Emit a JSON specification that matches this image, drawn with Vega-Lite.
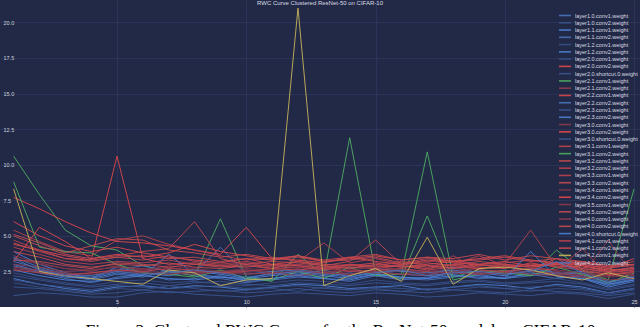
{
"$schema": "https://vega.github.io/schema/vega-lite/v6.json",
"width": 640, "height": 307, "padding": 0,
"background": "#ffffff",
"config": {"view": {"fill": "#212946", "stroke": null}, "font": "Liberation Sans"},
"title": {"text": "RWC Curve Clustered ResNet-50 on CIFAR-10", "fontSize": 6, "color": "#dcdce4", "fontWeight": "normal", "offset": -6, "anchor": "middle"},
"datasets": {
"names": [
{"k":1,"s":"layer1.0.conv1.weight"},{"k":2,"s":"layer1.0.conv2.weight"},{"k":3,"s":"layer1.1.conv1.weight"},{"k":4,"s":"layer1.1.conv2.weight"},{"k":5,"s":"layer1.2.conv1.weight"},{"k":6,"s":"layer1.2.conv2.weight"},{"k":7,"s":"layer2.0.conv1.weight"},{"k":8,"s":"layer2.0.conv2.weight"},{"k":9,"s":"layer2.0.shortcut.0.weight"},{"k":10,"s":"layer2.1.conv1.weight"},{"k":11,"s":"layer2.1.conv2.weight"},{"k":12,"s":"layer2.2.conv1.weight"},{"k":13,"s":"layer2.2.conv2.weight"},{"k":14,"s":"layer2.3.conv1.weight"},{"k":15,"s":"layer2.3.conv2.weight"},{"k":16,"s":"layer3.0.conv1.weight"},{"k":17,"s":"layer3.0.conv2.weight"},{"k":18,"s":"layer3.0.shortcut.0.weight"},{"k":19,"s":"layer3.1.conv1.weight"},{"k":20,"s":"layer3.1.conv2.weight"},{"k":21,"s":"layer3.2.conv1.weight"},{"k":22,"s":"layer3.2.conv2.weight"},{"k":23,"s":"layer3.3.conv1.weight"},{"k":24,"s":"layer3.3.conv2.weight"},{"k":25,"s":"layer3.4.conv1.weight"},{"k":26,"s":"layer3.4.conv2.weight"},{"k":27,"s":"layer3.5.conv1.weight"},{"k":28,"s":"layer3.5.conv2.weight"},{"k":29,"s":"layer4.0.conv1.weight"},{"k":30,"s":"layer4.0.conv2.weight"},{"k":31,"s":"layer4.0.shortcut.0.weight"},{"k":32,"s":"layer4.1.conv1.weight"},{"k":33,"s":"layer4.1.conv2.weight"},{"k":34,"s":"layer4.2.conv1.weight"},{"k":35,"s":"layer4.2.conv2.weight"}
],
"pts": [
{"k":1,"x":1,"y":2.9},{"k":1,"x":2,"y":2.4},{"k":1,"x":3,"y":2.0},{"k":1,"x":4,"y":1.7},{"k":1,"x":5,"y":2.1},{"k":1,"x":6,"y":2.3},{"k":1,"x":7,"y":1.9},{"k":1,"x":8,"y":2.0},{"k":1,"x":9,"y":2.2},{"k":1,"x":10,"y":1.8},{"k":1,"x":11,"y":1.9},{"k":1,"x":12,"y":2.1},{"k":1,"x":13,"y":2.0},{"k":1,"x":14,"y":1.8},{"k":1,"x":15,"y":2.2},{"k":1,"x":16,"y":2.0},{"k":1,"x":17,"y":1.9},{"k":1,"x":18,"y":2.1},{"k":1,"x":19,"y":2.3},{"k":1,"x":20,"y":2.0},{"k":1,"x":21,"y":2.2},{"k":1,"x":22,"y":2.4},{"k":1,"x":23,"y":2.1},{"k":1,"x":24,"y":1.5},{"k":1,"x":25,"y":1.9},
{"k":2,"x":1,"y":0.8},{"k":2,"x":2,"y":1.0},{"k":2,"x":3,"y":0.9},{"k":2,"x":4,"y":0.7},{"k":2,"x":5,"y":0.7},{"k":2,"x":6,"y":1.0},{"k":2,"x":7,"y":1.1},{"k":2,"x":8,"y":0.9},{"k":2,"x":9,"y":0.8},{"k":2,"x":10,"y":0.7},{"k":2,"x":11,"y":0.9},{"k":2,"x":12,"y":1.0},{"k":2,"x":13,"y":0.9},{"k":2,"x":14,"y":0.8},{"k":2,"x":15,"y":1.0},{"k":2,"x":16,"y":0.9},{"k":2,"x":17,"y":0.7},{"k":2,"x":18,"y":0.8},{"k":2,"x":19,"y":1.0},{"k":2,"x":20,"y":0.9},{"k":2,"x":21,"y":0.8},{"k":2,"x":22,"y":1.0},{"k":2,"x":23,"y":0.9},{"k":2,"x":24,"y":0.6},{"k":2,"x":25,"y":0.9},
{"k":3,"x":1,"y":2.0},{"k":3,"x":2,"y":1.6},{"k":3,"x":3,"y":1.3},{"k":3,"x":4,"y":1.1},{"k":3,"x":5,"y":1.4},{"k":3,"x":6,"y":1.5},{"k":3,"x":7,"y":1.3},{"k":3,"x":8,"y":1.5},{"k":3,"x":9,"y":1.4},{"k":3,"x":10,"y":1.2},{"k":3,"x":11,"y":1.4},{"k":3,"x":12,"y":1.6},{"k":3,"x":13,"y":1.5},{"k":3,"x":14,"y":1.3},{"k":3,"x":15,"y":1.4},{"k":3,"x":16,"y":1.5},{"k":3,"x":17,"y":1.2},{"k":3,"x":18,"y":1.4},{"k":3,"x":19,"y":1.6},{"k":3,"x":20,"y":1.5},{"k":3,"x":21,"y":1.3},{"k":3,"x":22,"y":1.6},{"k":3,"x":23,"y":1.4},{"k":3,"x":24,"y":1.0},{"k":3,"x":25,"y":1.3},
{"k":4,"x":1,"y":3.2},{"k":4,"x":2,"y":2.7},{"k":4,"x":3,"y":2.2},{"k":4,"x":4,"y":1.9},{"k":4,"x":5,"y":2.3},{"k":4,"x":6,"y":2.1},{"k":4,"x":7,"y":2.6},{"k":4,"x":8,"y":2.2},{"k":4,"x":9,"y":2.0},{"k":4,"x":10,"y":1.7},{"k":4,"x":11,"y":2.0},{"k":4,"x":12,"y":2.3},{"k":4,"x":13,"y":2.1},{"k":4,"x":14,"y":2.4},{"k":4,"x":15,"y":2.2},{"k":4,"x":16,"y":1.9},{"k":4,"x":17,"y":2.1},{"k":4,"x":18,"y":2.3},{"k":4,"x":19,"y":2.0},{"k":4,"x":20,"y":2.1},{"k":4,"x":21,"y":2.3},{"k":4,"x":22,"y":2.0},{"k":4,"x":23,"y":2.2},{"k":4,"x":24,"y":1.6},{"k":4,"x":25,"y":2.0},
{"k":5,"x":1,"y":1.7},{"k":5,"x":2,"y":1.4},{"k":5,"x":3,"y":1.2},{"k":5,"x":4,"y":1.0},{"k":5,"x":5,"y":1.3},{"k":5,"x":6,"y":1.2},{"k":5,"x":7,"y":1.5},{"k":5,"x":8,"y":1.3},{"k":5,"x":9,"y":1.1},{"k":5,"x":10,"y":1.2},{"k":5,"x":11,"y":1.3},{"k":5,"x":12,"y":1.1},{"k":5,"x":13,"y":1.4},{"k":5,"x":14,"y":1.2},{"k":5,"x":15,"y":1.3},{"k":5,"x":16,"y":1.1},{"k":5,"x":17,"y":1.3},{"k":5,"x":18,"y":1.2},{"k":5,"x":19,"y":1.4},{"k":5,"x":20,"y":1.3},{"k":5,"x":21,"y":1.1},{"k":5,"x":22,"y":1.3},{"k":5,"x":23,"y":1.2},{"k":5,"x":24,"y":0.9},{"k":5,"x":25,"y":1.2},
{"k":6,"x":1,"y":3.9},{"k":6,"x":2,"y":3.0},{"k":6,"x":3,"y":2.4},{"k":6,"x":4,"y":2.0},{"k":6,"x":5,"y":2.8},{"k":6,"x":6,"y":2.4},{"k":6,"x":7,"y":2.2},{"k":6,"x":8,"y":2.5},{"k":6,"x":9,"y":2.3},{"k":6,"x":10,"y":2.0},{"k":6,"x":11,"y":2.4},{"k":6,"x":12,"y":2.2},{"k":6,"x":13,"y":2.6},{"k":6,"x":14,"y":2.1},{"k":6,"x":15,"y":2.5},{"k":6,"x":16,"y":2.3},{"k":6,"x":17,"y":2.2},{"k":6,"x":18,"y":2.8},{"k":6,"x":19,"y":2.4},{"k":6,"x":20,"y":2.2},{"k":6,"x":21,"y":2.6},{"k":6,"x":22,"y":2.3},{"k":6,"x":23,"y":2.5},{"k":6,"x":24,"y":1.8},{"k":6,"x":25,"y":2.1},
{"k":7,"x":1,"y":2.4},{"k":7,"x":2,"y":2.0},{"k":7,"x":3,"y":1.7},{"k":7,"x":4,"y":1.5},{"k":7,"x":5,"y":1.8},{"k":7,"x":6,"y":1.9},{"k":7,"x":7,"y":1.7},{"k":7,"x":8,"y":1.8},{"k":7,"x":9,"y":1.6},{"k":7,"x":10,"y":1.5},{"k":7,"x":11,"y":1.7},{"k":7,"x":12,"y":1.9},{"k":7,"x":13,"y":1.8},{"k":7,"x":14,"y":1.6},{"k":7,"x":15,"y":1.9},{"k":7,"x":16,"y":1.7},{"k":7,"x":17,"y":1.6},{"k":7,"x":18,"y":1.8},{"k":7,"x":19,"y":1.9},{"k":7,"x":20,"y":1.7},{"k":7,"x":21,"y":1.8},{"k":7,"x":22,"y":2.0},{"k":7,"x":23,"y":1.7},{"k":7,"x":24,"y":1.3},{"k":7,"x":25,"y":1.6},
{"k":8,"x":1,"y":4.4},{"k":8,"x":2,"y":4.0},{"k":8,"x":3,"y":3.6},{"k":8,"x":4,"y":3.3},{"k":8,"x":5,"y":10.6},{"k":8,"x":6,"y":3.4},{"k":8,"x":7,"y":3.0},{"k":8,"x":8,"y":3.1},{"k":8,"x":9,"y":2.9},{"k":8,"x":10,"y":2.8},{"k":8,"x":11,"y":3.0},{"k":8,"x":12,"y":2.9},{"k":8,"x":13,"y":2.7},{"k":8,"x":14,"y":3.0},{"k":8,"x":15,"y":2.8},{"k":8,"x":16,"y":2.9},{"k":8,"x":17,"y":2.7},{"k":8,"x":18,"y":3.0},{"k":8,"x":19,"y":2.8},{"k":8,"x":20,"y":2.7},{"k":8,"x":21,"y":3.1},{"k":8,"x":22,"y":2.8},{"k":8,"x":23,"y":2.9},{"k":8,"x":24,"y":2.5},{"k":8,"x":25,"y":2.6},
{"k":9,"x":1,"y":1.4},{"k":9,"x":2,"y":1.3},{"k":9,"x":3,"y":1.1},{"k":9,"x":4,"y":0.9},{"k":9,"x":5,"y":1.0},{"k":9,"x":6,"y":1.2},{"k":9,"x":7,"y":1.0},{"k":9,"x":8,"y":1.1},{"k":9,"x":9,"y":1.2},{"k":9,"x":10,"y":1.0},{"k":9,"x":11,"y":1.1},{"k":9,"x":12,"y":1.3},{"k":9,"x":13,"y":1.1},{"k":9,"x":14,"y":1.0},{"k":9,"x":15,"y":1.2},{"k":9,"x":16,"y":1.1},{"k":9,"x":17,"y":1.0},{"k":9,"x":18,"y":1.2},{"k":9,"x":19,"y":1.1},{"k":9,"x":20,"y":1.0},{"k":9,"x":21,"y":1.2},{"k":9,"x":22,"y":1.1},{"k":9,"x":23,"y":1.0},{"k":9,"x":24,"y":0.8},{"k":9,"x":25,"y":1.0},
{"k":10,"x":1,"y":10.6},{"k":10,"x":2,"y":7.9},{"k":10,"x":3,"y":5.4},{"k":10,"x":4,"y":4.3},{"k":10,"x":5,"y":4.0},{"k":10,"x":6,"y":2.9},{"k":10,"x":7,"y":2.5},{"k":10,"x":8,"y":2.2},{"k":10,"x":9,"y":6.2},{"k":10,"x":10,"y":2.1},{"k":10,"x":11,"y":1.8},{"k":10,"x":12,"y":3.7},{"k":10,"x":13,"y":2.2},{"k":10,"x":14,"y":11.9},{"k":10,"x":15,"y":2.4},{"k":10,"x":16,"y":2.0},{"k":10,"x":17,"y":6.4},{"k":10,"x":18,"y":1.9},{"k":10,"x":19,"y":2.3},{"k":10,"x":20,"y":2.6},{"k":10,"x":21,"y":2.2},{"k":10,"x":22,"y":4.0},{"k":10,"x":23,"y":2.6},{"k":10,"x":24,"y":1.9},{"k":10,"x":25,"y":8.3},
{"k":11,"x":1,"y":3.6},{"k":11,"x":2,"y":3.1},{"k":11,"x":3,"y":2.7},{"k":11,"x":4,"y":2.5},{"k":11,"x":5,"y":2.9},{"k":11,"x":6,"y":2.6},{"k":11,"x":7,"y":2.8},{"k":11,"x":8,"y":2.5},{"k":11,"x":9,"y":2.4},{"k":11,"x":10,"y":2.6},{"k":11,"x":11,"y":2.5},{"k":11,"x":12,"y":2.7},{"k":11,"x":13,"y":2.4},{"k":11,"x":14,"y":2.3},{"k":11,"x":15,"y":2.6},{"k":11,"x":16,"y":2.5},{"k":11,"x":17,"y":2.4},{"k":11,"x":18,"y":2.6},{"k":11,"x":19,"y":2.5},{"k":11,"x":20,"y":2.4},{"k":11,"x":21,"y":2.7},{"k":11,"x":22,"y":2.5},{"k":11,"x":23,"y":2.3},{"k":11,"x":24,"y":2.2},{"k":11,"x":25,"y":2.3},
{"k":12,"x":1,"y":6.0},{"k":12,"x":2,"y":5.0},{"k":12,"x":3,"y":4.3},{"k":12,"x":4,"y":3.9},{"k":12,"x":5,"y":4.2},{"k":12,"x":6,"y":3.8},{"k":12,"x":7,"y":3.5},{"k":12,"x":8,"y":3.3},{"k":12,"x":9,"y":3.1},{"k":12,"x":10,"y":3.4},{"k":12,"x":11,"y":3.0},{"k":12,"x":12,"y":3.2},{"k":12,"x":13,"y":3.0},{"k":12,"x":14,"y":2.9},{"k":12,"x":15,"y":3.1},{"k":12,"x":16,"y":2.8},{"k":12,"x":17,"y":3.0},{"k":12,"x":18,"y":3.2},{"k":12,"x":19,"y":2.9},{"k":12,"x":20,"y":3.0},{"k":12,"x":21,"y":2.8},{"k":12,"x":22,"y":3.1},{"k":12,"x":23,"y":2.9},{"k":12,"x":24,"y":2.6},{"k":12,"x":25,"y":2.7},
{"k":13,"x":1,"y":3.5},{"k":13,"x":2,"y":2.8},{"k":13,"x":3,"y":2.3},{"k":13,"x":4,"y":2.2},{"k":13,"x":5,"y":2.6},{"k":13,"x":6,"y":2.9},{"k":13,"x":7,"y":2.5},{"k":13,"x":8,"y":2.4},{"k":13,"x":9,"y":4.2},{"k":13,"x":10,"y":2.3},{"k":13,"x":11,"y":2.5},{"k":13,"x":12,"y":2.6},{"k":13,"x":13,"y":2.4},{"k":13,"x":14,"y":2.2},{"k":13,"x":15,"y":2.7},{"k":13,"x":16,"y":2.5},{"k":13,"x":17,"y":2.4},{"k":13,"x":18,"y":2.6},{"k":13,"x":19,"y":2.3},{"k":13,"x":20,"y":2.5},{"k":13,"x":21,"y":2.7},{"k":13,"x":22,"y":2.4},{"k":13,"x":23,"y":2.3},{"k":13,"x":24,"y":1.7},{"k":13,"x":25,"y":2.2},
{"k":14,"x":1,"y":2.2},{"k":14,"x":2,"y":1.9},{"k":14,"x":3,"y":1.6},{"k":14,"x":4,"y":1.4},{"k":14,"x":5,"y":1.6},{"k":14,"x":6,"y":1.7},{"k":14,"x":7,"y":1.5},{"k":14,"x":8,"y":1.7},{"k":14,"x":9,"y":1.8},{"k":14,"x":10,"y":1.6},{"k":14,"x":11,"y":1.5},{"k":14,"x":12,"y":1.7},{"k":14,"x":13,"y":1.6},{"k":14,"x":14,"y":1.5},{"k":14,"x":15,"y":1.7},{"k":14,"x":16,"y":1.6},{"k":14,"x":17,"y":1.5},{"k":14,"x":18,"y":1.7},{"k":14,"x":19,"y":1.8},{"k":14,"x":20,"y":1.6},{"k":14,"x":21,"y":1.7},{"k":14,"x":22,"y":1.8},{"k":14,"x":23,"y":1.6},{"k":14,"x":24,"y":1.2},{"k":14,"x":25,"y":1.5},
{"k":15,"x":1,"y":3.0},{"k":15,"x":2,"y":2.5},{"k":15,"x":3,"y":2.1},{"k":15,"x":4,"y":2.0},{"k":15,"x":5,"y":2.4},{"k":15,"x":6,"y":2.2},{"k":15,"x":7,"y":3.7},{"k":15,"x":8,"y":2.3},{"k":15,"x":9,"y":2.1},{"k":15,"x":10,"y":2.0},{"k":15,"x":11,"y":2.2},{"k":15,"x":12,"y":2.4},{"k":15,"x":13,"y":2.2},{"k":15,"x":14,"y":2.0},{"k":15,"x":15,"y":2.3},{"k":15,"x":16,"y":2.1},{"k":15,"x":17,"y":2.0},{"k":15,"x":18,"y":2.5},{"k":15,"x":19,"y":2.2},{"k":15,"x":20,"y":2.0},{"k":15,"x":21,"y":2.4},{"k":15,"x":22,"y":2.2},{"k":15,"x":23,"y":2.0},{"k":15,"x":24,"y":1.6},{"k":15,"x":25,"y":1.9},
{"k":16,"x":1,"y":3.0},{"k":16,"x":2,"y":2.8},{"k":16,"x":3,"y":2.5},{"k":16,"x":4,"y":2.6},{"k":16,"x":5,"y":2.8},{"k":16,"x":6,"y":2.7},{"k":16,"x":7,"y":2.6},{"k":16,"x":8,"y":2.4},{"k":16,"x":9,"y":2.5},{"k":16,"x":10,"y":2.6},{"k":16,"x":11,"y":2.4},{"k":16,"x":12,"y":2.5},{"k":16,"x":13,"y":2.3},{"k":16,"x":14,"y":2.5},{"k":16,"x":15,"y":2.4},{"k":16,"x":16,"y":2.6},{"k":16,"x":17,"y":2.3},{"k":16,"x":18,"y":2.5},{"k":16,"x":19,"y":2.4},{"k":16,"x":20,"y":2.3},{"k":16,"x":21,"y":2.5},{"k":16,"x":22,"y":2.4},{"k":16,"x":23,"y":2.2},{"k":16,"x":24,"y":2.1},{"k":16,"x":25,"y":2.2},
{"k":17,"x":1,"y":7.7},{"k":17,"x":2,"y":6.9},{"k":17,"x":3,"y":6.0},{"k":17,"x":4,"y":5.2},{"k":17,"x":5,"y":4.6},{"k":17,"x":6,"y":4.5},{"k":17,"x":7,"y":4.3},{"k":17,"x":8,"y":4.0},{"k":17,"x":9,"y":3.7},{"k":17,"x":10,"y":5.6},{"k":17,"x":11,"y":3.4},{"k":17,"x":12,"y":3.3},{"k":17,"x":13,"y":3.1},{"k":17,"x":14,"y":3.5},{"k":17,"x":15,"y":3.2},{"k":17,"x":16,"y":3.0},{"k":17,"x":17,"y":3.3},{"k":17,"x":18,"y":3.1},{"k":17,"x":19,"y":3.0},{"k":17,"x":20,"y":3.2},{"k":17,"x":21,"y":2.9},{"k":17,"x":22,"y":3.1},{"k":17,"x":23,"y":3.0},{"k":17,"x":24,"y":2.7},{"k":17,"x":25,"y":3.4},
{"k":18,"x":1,"y":1.9},{"k":18,"x":2,"y":1.6},{"k":18,"x":3,"y":1.4},{"k":18,"x":4,"y":1.2},{"k":18,"x":5,"y":1.5},{"k":18,"x":6,"y":1.4},{"k":18,"x":7,"y":1.3},{"k":18,"x":8,"y":1.4},{"k":18,"x":9,"y":1.5},{"k":18,"x":10,"y":1.3},{"k":18,"x":11,"y":1.4},{"k":18,"x":12,"y":1.5},{"k":18,"x":13,"y":1.3},{"k":18,"x":14,"y":1.2},{"k":18,"x":15,"y":1.4},{"k":18,"x":16,"y":1.3},{"k":18,"x":17,"y":1.2},{"k":18,"x":18,"y":1.4},{"k":18,"x":19,"y":1.5},{"k":18,"x":20,"y":1.3},{"k":18,"x":21,"y":1.4},{"k":18,"x":22,"y":1.5},{"k":18,"x":23,"y":1.3},{"k":18,"x":24,"y":1.0},{"k":18,"x":25,"y":1.3},
{"k":19,"x":1,"y":5.4},{"k":19,"x":2,"y":4.6},{"k":19,"x":3,"y":3.9},{"k":19,"x":4,"y":3.6},{"k":19,"x":5,"y":4.7},{"k":19,"x":6,"y":5.0},{"k":19,"x":7,"y":4.4},{"k":19,"x":8,"y":4.0},{"k":19,"x":9,"y":3.6},{"k":19,"x":10,"y":3.3},{"k":19,"x":11,"y":3.5},{"k":19,"x":12,"y":3.2},{"k":19,"x":13,"y":4.5},{"k":19,"x":14,"y":3.1},{"k":19,"x":15,"y":3.4},{"k":19,"x":16,"y":3.0},{"k":19,"x":17,"y":3.2},{"k":19,"x":18,"y":3.3},{"k":19,"x":19,"y":3.0},{"k":19,"x":20,"y":3.1},{"k":19,"x":21,"y":3.3},{"k":19,"x":22,"y":3.0},{"k":19,"x":23,"y":3.1},{"k":19,"x":24,"y":2.8},{"k":19,"x":25,"y":2.9},
{"k":20,"x":1,"y":8.8},{"k":20,"x":2,"y":4.2},{"k":20,"x":3,"y":3.9},{"k":20,"x":4,"y":3.8},{"k":20,"x":5,"y":3.0},{"k":20,"x":6,"y":2.4},{"k":20,"x":7,"y":2.3},{"k":20,"x":8,"y":2.1},{"k":20,"x":9,"y":2.6},{"k":20,"x":10,"y":2.0},{"k":20,"x":11,"y":1.9},{"k":20,"x":12,"y":2.5},{"k":20,"x":13,"y":2.0},{"k":20,"x":14,"y":2.8},{"k":20,"x":15,"y":2.2},{"k":20,"x":16,"y":2.3},{"k":20,"x":17,"y":10.9},{"k":20,"x":18,"y":2.1},{"k":20,"x":19,"y":2.6},{"k":20,"x":20,"y":2.4},{"k":20,"x":21,"y":2.2},{"k":20,"x":22,"y":2.8},{"k":20,"x":23,"y":2.3},{"k":20,"x":24,"y":1.7},{"k":20,"x":25,"y":2.4},
{"k":21,"x":1,"y":5.0},{"k":21,"x":2,"y":4.3},{"k":21,"x":3,"y":3.7},{"k":21,"x":4,"y":3.4},{"k":21,"x":5,"y":3.6},{"k":21,"x":6,"y":3.9},{"k":21,"x":7,"y":4.1},{"k":21,"x":8,"y":6.0},{"k":21,"x":9,"y":3.4},{"k":21,"x":10,"y":3.0},{"k":21,"x":11,"y":3.2},{"k":21,"x":12,"y":3.1},{"k":21,"x":13,"y":2.9},{"k":21,"x":14,"y":3.2},{"k":21,"x":15,"y":4.7},{"k":21,"x":16,"y":3.0},{"k":21,"x":17,"y":3.1},{"k":21,"x":18,"y":2.9},{"k":21,"x":19,"y":3.2},{"k":21,"x":20,"y":3.0},{"k":21,"x":21,"y":2.8},{"k":21,"x":22,"y":3.0},{"k":21,"x":23,"y":2.8},{"k":21,"x":24,"y":2.6},{"k":21,"x":25,"y":2.7},
{"k":22,"x":1,"y":4.7},{"k":22,"x":2,"y":4.0},{"k":22,"x":3,"y":3.4},{"k":22,"x":4,"y":3.2},{"k":22,"x":5,"y":3.5},{"k":22,"x":6,"y":3.3},{"k":22,"x":7,"y":3.6},{"k":22,"x":8,"y":3.2},{"k":22,"x":9,"y":3.0},{"k":22,"x":10,"y":3.2},{"k":22,"x":11,"y":2.9},{"k":22,"x":12,"y":3.0},{"k":22,"x":13,"y":2.8},{"k":22,"x":14,"y":3.0},{"k":22,"x":15,"y":2.9},{"k":22,"x":16,"y":3.2},{"k":22,"x":17,"y":2.9},{"k":22,"x":18,"y":3.0},{"k":22,"x":19,"y":3.6},{"k":22,"x":20,"y":2.9},{"k":22,"x":21,"y":3.0},{"k":22,"x":22,"y":2.9},{"k":22,"x":23,"y":2.7},{"k":22,"x":24,"y":2.4},{"k":22,"x":25,"y":2.6},
{"k":23,"x":1,"y":4.2},{"k":23,"x":2,"y":3.7},{"k":23,"x":3,"y":3.2},{"k":23,"x":4,"y":3.0},{"k":23,"x":5,"y":3.2},{"k":23,"x":6,"y":3.1},{"k":23,"x":7,"y":3.3},{"k":23,"x":8,"y":3.0},{"k":23,"x":9,"y":2.9},{"k":23,"x":10,"y":3.1},{"k":23,"x":11,"y":2.8},{"k":23,"x":12,"y":2.9},{"k":23,"x":13,"y":2.7},{"k":23,"x":14,"y":2.9},{"k":23,"x":15,"y":2.8},{"k":23,"x":16,"y":3.0},{"k":23,"x":17,"y":2.8},{"k":23,"x":18,"y":2.9},{"k":23,"x":19,"y":2.7},{"k":23,"x":20,"y":3.0},{"k":23,"x":21,"y":5.4},{"k":23,"x":22,"y":2.8},{"k":23,"x":23,"y":2.6},{"k":23,"x":24,"y":2.3},{"k":23,"x":25,"y":2.5},
{"k":24,"x":1,"y":3.9},{"k":24,"x":2,"y":3.5},{"k":24,"x":3,"y":3.0},{"k":24,"x":4,"y":2.8},{"k":24,"x":5,"y":3.0},{"k":24,"x":6,"y":2.9},{"k":24,"x":7,"y":3.1},{"k":24,"x":8,"y":2.8},{"k":24,"x":9,"y":2.7},{"k":24,"x":10,"y":2.9},{"k":24,"x":11,"y":2.7},{"k":24,"x":12,"y":2.8},{"k":24,"x":13,"y":2.6},{"k":24,"x":14,"y":2.8},{"k":24,"x":15,"y":2.7},{"k":24,"x":16,"y":2.9},{"k":24,"x":17,"y":2.6},{"k":24,"x":18,"y":2.8},{"k":24,"x":19,"y":2.7},{"k":24,"x":20,"y":2.9},{"k":24,"x":21,"y":2.6},{"k":24,"x":22,"y":3.4},{"k":24,"x":23,"y":2.5},{"k":24,"x":24,"y":2.3},{"k":24,"x":25,"y":2.4},
{"k":25,"x":1,"y":3.4},{"k":25,"x":2,"y":3.0},{"k":25,"x":3,"y":2.7},{"k":25,"x":4,"y":2.6},{"k":25,"x":5,"y":2.8},{"k":25,"x":6,"y":2.6},{"k":25,"x":7,"y":2.9},{"k":25,"x":8,"y":2.7},{"k":25,"x":9,"y":2.5},{"k":25,"x":10,"y":2.7},{"k":25,"x":11,"y":2.6},{"k":25,"x":12,"y":2.8},{"k":25,"x":13,"y":2.5},{"k":25,"x":14,"y":2.6},{"k":25,"x":15,"y":2.8},{"k":25,"x":16,"y":2.6},{"k":25,"x":17,"y":2.5},{"k":25,"x":18,"y":2.7},{"k":25,"x":19,"y":2.6},{"k":25,"x":20,"y":2.5},{"k":25,"x":21,"y":2.8},{"k":25,"x":22,"y":2.6},{"k":25,"x":23,"y":2.4},{"k":25,"x":24,"y":2.2},{"k":25,"x":25,"y":2.3},
{"k":26,"x":1,"y":3.2},{"k":26,"x":2,"y":5.6},{"k":26,"x":3,"y":4.6},{"k":26,"x":4,"y":3.4},{"k":26,"x":5,"y":3.7},{"k":26,"x":6,"y":3.5},{"k":26,"x":7,"y":3.8},{"k":26,"x":8,"y":4.4},{"k":26,"x":9,"y":3.9},{"k":26,"x":10,"y":3.6},{"k":26,"x":11,"y":3.3},{"k":26,"x":12,"y":3.6},{"k":26,"x":13,"y":3.2},{"k":26,"x":14,"y":3.4},{"k":26,"x":15,"y":3.6},{"k":26,"x":16,"y":3.3},{"k":26,"x":17,"y":3.5},{"k":26,"x":18,"y":3.2},{"k":26,"x":19,"y":3.4},{"k":26,"x":20,"y":3.6},{"k":26,"x":21,"y":3.3},{"k":26,"x":22,"y":3.1},{"k":26,"x":23,"y":3.2},{"k":26,"x":24,"y":2.9},{"k":26,"x":25,"y":3.0},
{"k":27,"x":1,"y":2.8},{"k":27,"x":2,"y":2.6},{"k":27,"x":3,"y":2.4},{"k":27,"x":4,"y":2.3},{"k":27,"x":5,"y":2.5},{"k":27,"x":6,"y":2.4},{"k":27,"x":7,"y":2.3},{"k":27,"x":8,"y":2.5},{"k":27,"x":9,"y":2.4},{"k":27,"x":10,"y":2.3},{"k":27,"x":11,"y":2.4},{"k":27,"x":12,"y":2.2},{"k":27,"x":13,"y":2.4},{"k":27,"x":14,"y":2.3},{"k":27,"x":15,"y":2.5},{"k":27,"x":16,"y":2.3},{"k":27,"x":17,"y":2.2},{"k":27,"x":18,"y":2.4},{"k":27,"x":19,"y":2.3},{"k":27,"x":20,"y":2.5},{"k":27,"x":21,"y":2.3},{"k":27,"x":22,"y":2.2},{"k":27,"x":23,"y":2.1},{"k":27,"x":24,"y":1.9},{"k":27,"x":25,"y":2.0},
{"k":28,"x":1,"y":3.3},{"k":28,"x":2,"y":3.2},{"k":28,"x":3,"y":2.9},{"k":28,"x":4,"y":2.7},{"k":28,"x":5,"y":3.1},{"k":28,"x":6,"y":3.0},{"k":28,"x":7,"y":2.8},{"k":28,"x":8,"y":3.0},{"k":28,"x":9,"y":2.8},{"k":28,"x":10,"y":3.0},{"k":28,"x":11,"y":2.7},{"k":28,"x":12,"y":3.2},{"k":28,"x":13,"y":2.9},{"k":28,"x":14,"y":2.7},{"k":28,"x":15,"y":3.0},{"k":28,"x":16,"y":2.8},{"k":28,"x":17,"y":2.9},{"k":28,"x":18,"y":2.7},{"k":28,"x":19,"y":3.0},{"k":28,"x":20,"y":2.8},{"k":28,"x":21,"y":2.9},{"k":28,"x":22,"y":3.0},{"k":28,"x":23,"y":2.7},{"k":28,"x":24,"y":2.5},{"k":28,"x":25,"y":2.8},
{"k":29,"x":1,"y":2.7},{"k":29,"x":2,"y":2.5},{"k":29,"x":3,"y":2.3},{"k":29,"x":4,"y":2.4},{"k":29,"x":5,"y":2.6},{"k":29,"x":6,"y":2.5},{"k":29,"x":7,"y":2.4},{"k":29,"x":8,"y":2.3},{"k":29,"x":9,"y":2.5},{"k":29,"x":10,"y":2.4},{"k":29,"x":11,"y":2.3},{"k":29,"x":12,"y":2.5},{"k":29,"x":13,"y":2.4},{"k":29,"x":14,"y":2.6},{"k":29,"x":15,"y":2.4},{"k":29,"x":16,"y":2.3},{"k":29,"x":17,"y":2.5},{"k":29,"x":18,"y":2.4},{"k":29,"x":19,"y":2.3},{"k":29,"x":20,"y":2.4},{"k":29,"x":21,"y":2.5},{"k":29,"x":22,"y":2.3},{"k":29,"x":23,"y":2.2},{"k":29,"x":24,"y":4.7},{"k":29,"x":25,"y":2.1},
{"k":30,"x":1,"y":4.5},{"k":30,"x":2,"y":3.9},{"k":30,"x":3,"y":3.4},{"k":30,"x":4,"y":3.3},{"k":30,"x":5,"y":3.5},{"k":30,"x":6,"y":3.6},{"k":30,"x":7,"y":3.4},{"k":30,"x":8,"y":3.5},{"k":30,"x":9,"y":3.2},{"k":30,"x":10,"y":3.4},{"k":30,"x":11,"y":3.3},{"k":30,"x":12,"y":3.5},{"k":30,"x":13,"y":3.2},{"k":30,"x":14,"y":3.3},{"k":30,"x":15,"y":3.5},{"k":30,"x":16,"y":3.1},{"k":30,"x":17,"y":3.4},{"k":30,"x":18,"y":3.2},{"k":30,"x":19,"y":3.3},{"k":30,"x":20,"y":3.5},{"k":30,"x":21,"y":3.2},{"k":30,"x":22,"y":3.4},{"k":30,"x":23,"y":3.0},{"k":30,"x":24,"y":2.7},{"k":30,"x":25,"y":3.0},
{"k":31,"x":1,"y":2.6},{"k":31,"x":2,"y":2.2},{"k":31,"x":3,"y":1.9},{"k":31,"x":4,"y":1.8},{"k":31,"x":5,"y":2.0},{"k":31,"x":6,"y":2.2},{"k":31,"x":7,"y":2.0},{"k":31,"x":8,"y":1.9},{"k":31,"x":9,"y":2.1},{"k":31,"x":10,"y":1.9},{"k":31,"x":11,"y":2.0},{"k":31,"x":12,"y":2.2},{"k":31,"x":13,"y":2.0},{"k":31,"x":14,"y":1.9},{"k":31,"x":15,"y":2.3},{"k":31,"x":16,"y":2.1},{"k":31,"x":17,"y":2.0},{"k":31,"x":18,"y":2.2},{"k":31,"x":19,"y":2.1},{"k":31,"x":20,"y":2.0},{"k":31,"x":21,"y":3.9},{"k":31,"x":22,"y":2.1},{"k":31,"x":23,"y":2.0},{"k":31,"x":24,"y":1.4},{"k":31,"x":25,"y":1.8},
{"k":32,"x":1,"y":2.6},{"k":32,"x":2,"y":2.4},{"k":32,"x":3,"y":2.2},{"k":32,"x":4,"y":2.4},{"k":32,"x":5,"y":2.6},{"k":32,"x":6,"y":2.5},{"k":32,"x":7,"y":2.7},{"k":32,"x":8,"y":2.6},{"k":32,"x":9,"y":2.4},{"k":32,"x":10,"y":2.5},{"k":32,"x":11,"y":2.7},{"k":32,"x":12,"y":2.6},{"k":32,"x":13,"y":2.8},{"k":32,"x":14,"y":2.5},{"k":32,"x":15,"y":2.6},{"k":32,"x":16,"y":2.7},{"k":32,"x":17,"y":2.5},{"k":32,"x":18,"y":3.6},{"k":32,"x":19,"y":2.6},{"k":32,"x":20,"y":2.5},{"k":32,"x":21,"y":2.7},{"k":32,"x":22,"y":2.6},{"k":32,"x":23,"y":4.1},{"k":32,"x":24,"y":2.2},{"k":32,"x":25,"y":2.5},
{"k":33,"x":1,"y":5.1},{"k":33,"x":2,"y":4.5},{"k":33,"x":3,"y":3.8},{"k":33,"x":4,"y":4.3},{"k":33,"x":5,"y":4.8},{"k":33,"x":6,"y":4.7},{"k":33,"x":7,"y":4.0},{"k":33,"x":8,"y":3.8},{"k":33,"x":9,"y":3.5},{"k":33,"x":10,"y":3.7},{"k":33,"x":11,"y":3.4},{"k":33,"x":12,"y":3.6},{"k":33,"x":13,"y":3.3},{"k":33,"x":14,"y":3.5},{"k":33,"x":15,"y":3.7},{"k":33,"x":16,"y":3.3},{"k":33,"x":17,"y":3.5},{"k":33,"x":18,"y":3.4},{"k":33,"x":19,"y":3.7},{"k":33,"x":20,"y":3.3},{"k":33,"x":21,"y":3.6},{"k":33,"x":22,"y":3.4},{"k":33,"x":23,"y":3.2},{"k":33,"x":24,"y":2.8},{"k":33,"x":25,"y":3.2},
{"k":34,"x":1,"y":8.3},{"k":34,"x":2,"y":2.5},{"k":34,"x":3,"y":2.2},{"k":34,"x":4,"y":2.0},{"k":34,"x":5,"y":1.8},{"k":34,"x":6,"y":1.6},{"k":34,"x":7,"y":2.6},{"k":34,"x":8,"y":2.4},{"k":34,"x":9,"y":1.5},{"k":34,"x":10,"y":1.9},{"k":34,"x":11,"y":2.0},{"k":34,"x":12,"y":21.0},{"k":34,"x":13,"y":1.5},{"k":34,"x":14,"y":2.2},{"k":34,"x":15,"y":2.7},{"k":34,"x":16,"y":1.8},{"k":34,"x":17,"y":4.9},{"k":34,"x":18,"y":1.6},{"k":34,"x":19,"y":2.7},{"k":34,"x":20,"y":2.8},{"k":34,"x":21,"y":2.6},{"k":34,"x":22,"y":2.2},{"k":34,"x":23,"y":1.9},{"k":34,"x":24,"y":2.4},{"k":34,"x":25,"y":2.0},
{"k":35,"x":1,"y":3.4},{"k":35,"x":2,"y":2.6},{"k":35,"x":3,"y":2.2},{"k":35,"x":4,"y":2.1},{"k":35,"x":5,"y":2.5},{"k":35,"x":6,"y":2.3},{"k":35,"x":7,"y":2.4},{"k":35,"x":8,"y":2.6},{"k":35,"x":9,"y":2.4},{"k":35,"x":10,"y":2.1},{"k":35,"x":11,"y":2.3},{"k":35,"x":12,"y":2.5},{"k":35,"x":13,"y":2.3},{"k":35,"x":14,"y":2.1},{"k":35,"x":15,"y":2.4},{"k":35,"x":16,"y":2.6},{"k":35,"x":17,"y":2.2},{"k":35,"x":18,"y":2.4},{"k":35,"x":19,"y":2.5},{"k":35,"x":20,"y":2.3},{"k":35,"x":21,"y":2.5},{"k":35,"x":22,"y":3.2},{"k":35,"x":23,"y":2.4},{"k":35,"x":24,"y":1.7},{"k":35,"x":25,"y":2.1}
]
},
"data": {"name": "pts"},
"transform": [{"lookup": "k", "from": {"data": {"name": "names"}, "key": "k", "fields": ["s"]}}],
"mark": {"type": "line", "strokeWidth": 1, "opacity": 0.9},
"encoding": {
"x": {"field": "x", "type": "quantitative",
 "scale": {"domain": [0.474, 25.23], "nice": false, "zero": false},
 "axis": {"values": [5, 10, 15, 20, 25], "grid": true, "gridColor": "#2A3459", "gridWidth": 1, "domain": false, "ticks": false, "tickSize": 0, "labelPadding": -6, "labelBaseline": "middle", "labelFontSize": 5.5, "labelColor": "#cfd3dc", "labelFlush": false, "labelOverlap": false,
  "title": "Figure 2: Clustered RWC Curves for the ResNet-50 model on CIFAR-10", "titleFont": "Liberation Serif", "titleFontSize": 17.5, "titleFontWeight": "normal", "titleColor": "#000000", "titleY": 14, "titleX": 340, "titleBaseline": "top"}},
"y": {"field": "y", "type": "quantitative",
 "scale": {"domain": [0, 21.57], "nice": false, "zero": false},
 "axis": {"values": [2.5, 5, 7.5, 10, 12.5, 15, 17.5, 20], "format": ".1f", "grid": true, "gridColor": "#2A3459", "gridWidth": 1, "domain": false, "ticks": false, "tickSize": 0, "labelPadding": -3, "labelAlign": "left", "labelBaseline": "middle", "labelFontSize": 5.5, "labelColor": "#cfd3dc", "title": null}},
"color": {"field": "s", "type": "nominal",
 "scale": {"domain": ["layer1.0.conv1.weight","layer1.0.conv2.weight","layer1.1.conv1.weight","layer1.1.conv2.weight","layer1.2.conv1.weight","layer1.2.conv2.weight","layer2.0.conv1.weight","layer2.0.conv2.weight","layer2.0.shortcut.0.weight","layer2.1.conv1.weight","layer2.1.conv2.weight","layer2.2.conv1.weight","layer2.2.conv2.weight","layer2.3.conv1.weight","layer2.3.conv2.weight","layer3.0.conv1.weight","layer3.0.conv2.weight","layer3.0.shortcut.0.weight","layer3.1.conv1.weight","layer3.1.conv2.weight","layer3.2.conv1.weight","layer3.2.conv2.weight","layer3.3.conv1.weight","layer3.3.conv2.weight","layer3.4.conv1.weight","layer3.4.conv2.weight","layer3.5.conv1.weight","layer3.5.conv2.weight","layer4.0.conv1.weight","layer4.0.conv2.weight","layer4.0.shortcut.0.weight","layer4.1.conv1.weight","layer4.1.conv2.weight","layer4.2.conv1.weight","layer4.2.conv2.weight"],
  "range": ["#4a74bd","#3a5590","#4d80d4","#4a72b8","#374f86","#4d80d4","#374f86","#e0474c","#3a5590","#4fae62","#8e3b4c","#d9474c","#4a74bd","#3a5590","#4d80d4","#8e3b4c","#e0474c","#3a5590","#b8434d","#4fae62","#c44a50","#b8434d","#b8434d","#c44a50","#7d3648","#e0474c","#8e3b4c","#c44a50","#8e3b4c","#c44a50","#4d80d4","#b8434d","#c44a50","#c9b45a","#4a72b8"]},
 "legend": {"orient": "none", "legendX": 558, "legendY": 12, "title": null, "symbolType": "stroke", "symbolStrokeWidth": 1.6, "symbolSize": 144, "labelFontSize": 5.5, "labelColor": "#dcdce4", "rowPadding": 0.27, "clipHeight": 7, "symbolLimit": 50, "padding": 0, "labelLimit": 120, "labelOffset": 3}}
}
}
